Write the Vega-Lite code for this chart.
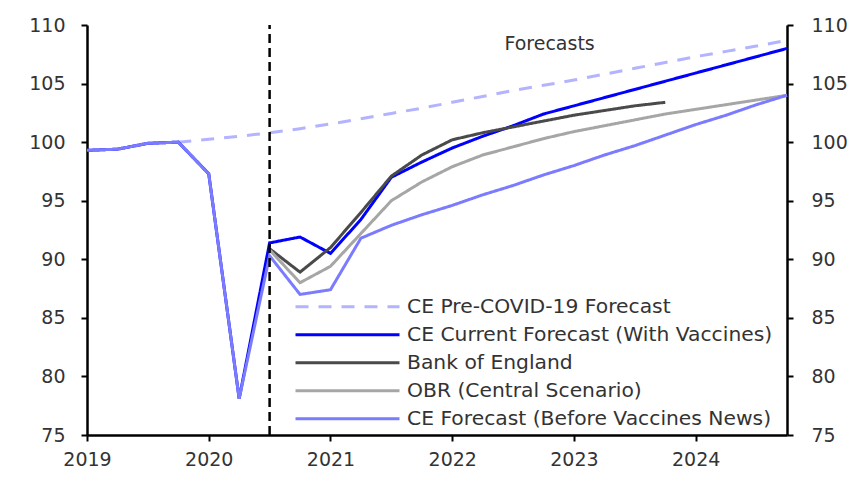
{
  "$schema": "https://vega.github.io/schema/vega-lite/v6.json",
  "width": 700,
  "height": 410,
  "autosize": {"type": "none"},
  "padding": {"left": 87, "top": 25, "right": 63, "bottom": 47},
  "config": {
    "view": {"stroke": null},
    "font": "DejaVu Sans",
    "axis": {
      "grid": false,
      "domainColor": "#000000",
      "domainWidth": 2.5,
      "tickColor": "#000000",
      "tickWidth": 2,
      "tickSize": 6,
      "labelFont": "DejaVu Sans",
      "labelFontSize": 19,
      "labelColor": "#333333",
      "labelFlush": false,
      "title": null
    },
    "legend": {
      "orient": "none",
      "legendX": 207,
      "legendY": 268,
      "padding": 0,
      "clipHeight": 27.3,
      "rowPadding": 0,
      "symbolType": "stroke",
      "symbolSize": 10816,
      "symbolStrokeWidth": 3,
      "labelFont": "DejaVu Sans",
      "labelFontSize": 20.3,
      "labelColor": "#333333",
      "labelOffset": 6,
      "labelLimit": 500,
      "title": null
    }
  },
  "resolve": {"axis": {"y": "independent"}},
  "layer": [
    {
      "data": {
        "values": [
          {"t": 2019.75, "v": 100.0, "s": "CE Pre-COVID-19 Forecast"},
          {"t": 2020.0, "v": 100.25, "s": "CE Pre-COVID-19 Forecast"},
          {"t": 2020.25, "v": 100.5, "s": "CE Pre-COVID-19 Forecast"},
          {"t": 2020.5, "v": 100.8, "s": "CE Pre-COVID-19 Forecast"},
          {"t": 2020.75, "v": 101.15, "s": "CE Pre-COVID-19 Forecast"},
          {"t": 2021.0, "v": 101.55, "s": "CE Pre-COVID-19 Forecast"},
          {"t": 2021.25, "v": 102.0, "s": "CE Pre-COVID-19 Forecast"},
          {"t": 2021.5, "v": 102.45, "s": "CE Pre-COVID-19 Forecast"},
          {"t": 2021.75, "v": 102.9, "s": "CE Pre-COVID-19 Forecast"},
          {"t": 2022.0, "v": 103.4, "s": "CE Pre-COVID-19 Forecast"},
          {"t": 2022.25, "v": 103.9, "s": "CE Pre-COVID-19 Forecast"},
          {"t": 2022.5, "v": 104.4, "s": "CE Pre-COVID-19 Forecast"},
          {"t": 2022.75, "v": 104.85, "s": "CE Pre-COVID-19 Forecast"},
          {"t": 2023.0, "v": 105.3, "s": "CE Pre-COVID-19 Forecast"},
          {"t": 2023.25, "v": 105.8, "s": "CE Pre-COVID-19 Forecast"},
          {"t": 2023.5, "v": 106.3, "s": "CE Pre-COVID-19 Forecast"},
          {"t": 2023.75, "v": 106.8, "s": "CE Pre-COVID-19 Forecast"},
          {"t": 2024.0, "v": 107.3, "s": "CE Pre-COVID-19 Forecast"},
          {"t": 2024.25, "v": 107.75, "s": "CE Pre-COVID-19 Forecast"},
          {"t": 2024.5, "v": 108.2, "s": "CE Pre-COVID-19 Forecast"},
          {"t": 2024.75, "v": 108.7, "s": "CE Pre-COVID-19 Forecast"},

          {"t": 2019.0, "v": 99.3, "s": "CE Current Forecast (With Vaccines)"},
          {"t": 2019.25, "v": 99.4, "s": "CE Current Forecast (With Vaccines)"},
          {"t": 2019.5, "v": 99.9, "s": "CE Current Forecast (With Vaccines)"},
          {"t": 2019.75, "v": 100.0, "s": "CE Current Forecast (With Vaccines)"},
          {"t": 2020.0, "v": 97.3, "s": "CE Current Forecast (With Vaccines)"},
          {"t": 2020.25, "v": 78.1, "s": "CE Current Forecast (With Vaccines)"},
          {"t": 2020.5, "v": 91.4, "s": "CE Current Forecast (With Vaccines)"},
          {"t": 2020.75, "v": 91.9, "s": "CE Current Forecast (With Vaccines)"},
          {"t": 2021.0, "v": 90.5, "s": "CE Current Forecast (With Vaccines)"},
          {"t": 2021.25, "v": 93.4, "s": "CE Current Forecast (With Vaccines)"},
          {"t": 2021.5, "v": 97.0, "s": "CE Current Forecast (With Vaccines)"},
          {"t": 2021.75, "v": 98.3, "s": "CE Current Forecast (With Vaccines)"},
          {"t": 2022.0, "v": 99.5, "s": "CE Current Forecast (With Vaccines)"},
          {"t": 2022.25, "v": 100.5, "s": "CE Current Forecast (With Vaccines)"},
          {"t": 2022.5, "v": 101.4, "s": "CE Current Forecast (With Vaccines)"},
          {"t": 2022.75, "v": 102.4, "s": "CE Current Forecast (With Vaccines)"},
          {"t": 2023.0, "v": 103.1, "s": "CE Current Forecast (With Vaccines)"},
          {"t": 2023.25, "v": 103.8, "s": "CE Current Forecast (With Vaccines)"},
          {"t": 2023.5, "v": 104.5, "s": "CE Current Forecast (With Vaccines)"},
          {"t": 2023.75, "v": 105.2, "s": "CE Current Forecast (With Vaccines)"},
          {"t": 2024.0, "v": 105.9, "s": "CE Current Forecast (With Vaccines)"},
          {"t": 2024.25, "v": 106.6, "s": "CE Current Forecast (With Vaccines)"},
          {"t": 2024.5, "v": 107.3, "s": "CE Current Forecast (With Vaccines)"},
          {"t": 2024.75, "v": 108.0, "s": "CE Current Forecast (With Vaccines)"},

          {"t": 2020.5, "v": 90.9, "s": "Bank of England"},
          {"t": 2020.75, "v": 88.9, "s": "Bank of England"},
          {"t": 2021.0, "v": 91.0, "s": "Bank of England"},
          {"t": 2021.25, "v": 94.0, "s": "Bank of England"},
          {"t": 2021.5, "v": 97.1, "s": "Bank of England"},
          {"t": 2021.75, "v": 98.9, "s": "Bank of England"},
          {"t": 2022.0, "v": 100.2, "s": "Bank of England"},
          {"t": 2022.25, "v": 100.8, "s": "Bank of England"},
          {"t": 2022.5, "v": 101.3, "s": "Bank of England"},
          {"t": 2022.75, "v": 101.8, "s": "Bank of England"},
          {"t": 2023.0, "v": 102.3, "s": "Bank of England"},
          {"t": 2023.25, "v": 102.7, "s": "Bank of England"},
          {"t": 2023.5, "v": 103.1, "s": "Bank of England"},
          {"t": 2023.75, "v": 103.4, "s": "Bank of England"},

          {"t": 2020.5, "v": 90.8, "s": "OBR (Central Scenario)"},
          {"t": 2020.75, "v": 88.0, "s": "OBR (Central Scenario)"},
          {"t": 2021.0, "v": 89.4, "s": "OBR (Central Scenario)"},
          {"t": 2021.25, "v": 92.2, "s": "OBR (Central Scenario)"},
          {"t": 2021.5, "v": 95.0, "s": "OBR (Central Scenario)"},
          {"t": 2021.75, "v": 96.6, "s": "OBR (Central Scenario)"},
          {"t": 2022.0, "v": 97.9, "s": "OBR (Central Scenario)"},
          {"t": 2022.25, "v": 98.9, "s": "OBR (Central Scenario)"},
          {"t": 2022.5, "v": 99.6, "s": "OBR (Central Scenario)"},
          {"t": 2022.75, "v": 100.3, "s": "OBR (Central Scenario)"},
          {"t": 2023.0, "v": 100.9, "s": "OBR (Central Scenario)"},
          {"t": 2023.25, "v": 101.4, "s": "OBR (Central Scenario)"},
          {"t": 2023.5, "v": 101.9, "s": "OBR (Central Scenario)"},
          {"t": 2023.75, "v": 102.4, "s": "OBR (Central Scenario)"},
          {"t": 2024.0, "v": 102.8, "s": "OBR (Central Scenario)"},
          {"t": 2024.25, "v": 103.2, "s": "OBR (Central Scenario)"},
          {"t": 2024.5, "v": 103.6, "s": "OBR (Central Scenario)"},
          {"t": 2024.75, "v": 104.0, "s": "OBR (Central Scenario)"},

          {"t": 2019.0, "v": 99.3, "s": "CE Forecast (Before Vaccines News)"},
          {"t": 2019.25, "v": 99.4, "s": "CE Forecast (Before Vaccines News)"},
          {"t": 2019.5, "v": 99.9, "s": "CE Forecast (Before Vaccines News)"},
          {"t": 2019.75, "v": 100.0, "s": "CE Forecast (Before Vaccines News)"},
          {"t": 2020.0, "v": 97.3, "s": "CE Forecast (Before Vaccines News)"},
          {"t": 2020.25, "v": 78.1, "s": "CE Forecast (Before Vaccines News)"},
          {"t": 2020.5, "v": 90.3, "s": "CE Forecast (Before Vaccines News)"},
          {"t": 2020.75, "v": 87.0, "s": "CE Forecast (Before Vaccines News)"},
          {"t": 2021.0, "v": 87.4, "s": "CE Forecast (Before Vaccines News)"},
          {"t": 2021.25, "v": 91.8, "s": "CE Forecast (Before Vaccines News)"},
          {"t": 2021.5, "v": 92.9, "s": "CE Forecast (Before Vaccines News)"},
          {"t": 2021.75, "v": 93.8, "s": "CE Forecast (Before Vaccines News)"},
          {"t": 2022.0, "v": 94.6, "s": "CE Forecast (Before Vaccines News)"},
          {"t": 2022.25, "v": 95.5, "s": "CE Forecast (Before Vaccines News)"},
          {"t": 2022.5, "v": 96.3, "s": "CE Forecast (Before Vaccines News)"},
          {"t": 2022.75, "v": 97.2, "s": "CE Forecast (Before Vaccines News)"},
          {"t": 2023.0, "v": 98.0, "s": "CE Forecast (Before Vaccines News)"},
          {"t": 2023.25, "v": 98.9, "s": "CE Forecast (Before Vaccines News)"},
          {"t": 2023.5, "v": 99.7, "s": "CE Forecast (Before Vaccines News)"},
          {"t": 2023.75, "v": 100.6, "s": "CE Forecast (Before Vaccines News)"},
          {"t": 2024.0, "v": 101.5, "s": "CE Forecast (Before Vaccines News)"},
          {"t": 2024.25, "v": 102.3, "s": "CE Forecast (Before Vaccines News)"},
          {"t": 2024.5, "v": 103.2, "s": "CE Forecast (Before Vaccines News)"},
          {"t": 2024.75, "v": 104.0, "s": "CE Forecast (Before Vaccines News)"}
        ]
      },
      "mark": {"type": "line", "strokeCap": "butt", "strokeWidth": 3, "clip": false},
      "encoding": {
        "x": {
          "field": "t",
          "type": "quantitative",
          "scale": {"domain": [2019, 2024.75], "nice": false, "zero": false},
          "axis": {"values": [2019, 2020, 2021, 2022, 2023, 2024], "format": "d", "labelPadding": 9, "labelFlush": false}
        },
        "y": {
          "field": "v",
          "type": "quantitative",
          "scale": {"domain": [75, 110], "nice": false, "zero": false},
          "axis": {"orient": "left", "values": [75, 80, 85, 90, 95, 100, 105, 110], "labelPadding": 16}
        },
        "color": {
          "field": "s",
          "type": "nominal",
          "sort": null,
          "scale": {
            "domain": ["CE Pre-COVID-19 Forecast", "CE Current Forecast (With Vaccines)", "Bank of England", "OBR (Central Scenario)", "CE Forecast (Before Vaccines News)"],
            "range": ["#b3b3ff", "#0000ff", "#4a4a4a", "#a6a6a6", "#7b7bff"]
          }
        },
        "strokeDash": {
          "field": "s",
          "type": "nominal",
          "sort": null,
          "scale": {
            "domain": ["CE Pre-COVID-19 Forecast", "CE Current Forecast (With Vaccines)", "Bank of England", "OBR (Central Scenario)", "CE Forecast (Before Vaccines News)"],
            "range": [[13, 10], [1, 0], [1, 0], [1, 0], [1, 0]]
          }
        },
        "order": {"field": "t", "type": "quantitative"}
      }
    },
    {
      "data": {"values": [{"x": 2020.5, "y": 75, "y2": 110}]},
      "mark": {"type": "rule", "color": "#000000", "strokeWidth": 2.5, "strokeDash": [9, 5]},
      "encoding": {
        "x": {"field": "x", "type": "quantitative"},
        "y": {
          "field": "y",
          "type": "quantitative",
          "axis": {"orient": "right", "values": [75, 80, 85, 90, 95, 100, 105, 110], "labelPadding": 18}
        },
        "y2": {"field": "y2"}
      }
    },
    {
      "data": {"values": [{"x": 2022.8, "y": 108.4, "label": "Forecasts"}]},
      "mark": {"type": "text", "font": "DejaVu Sans", "fontSize": 19, "color": "#333333", "align": "center", "baseline": "middle"},
      "encoding": {
        "x": {"field": "x", "type": "quantitative"},
        "y": {"field": "y", "type": "quantitative", "axis": null},
        "text": {"field": "label"}
      }
    }
  ]
}
